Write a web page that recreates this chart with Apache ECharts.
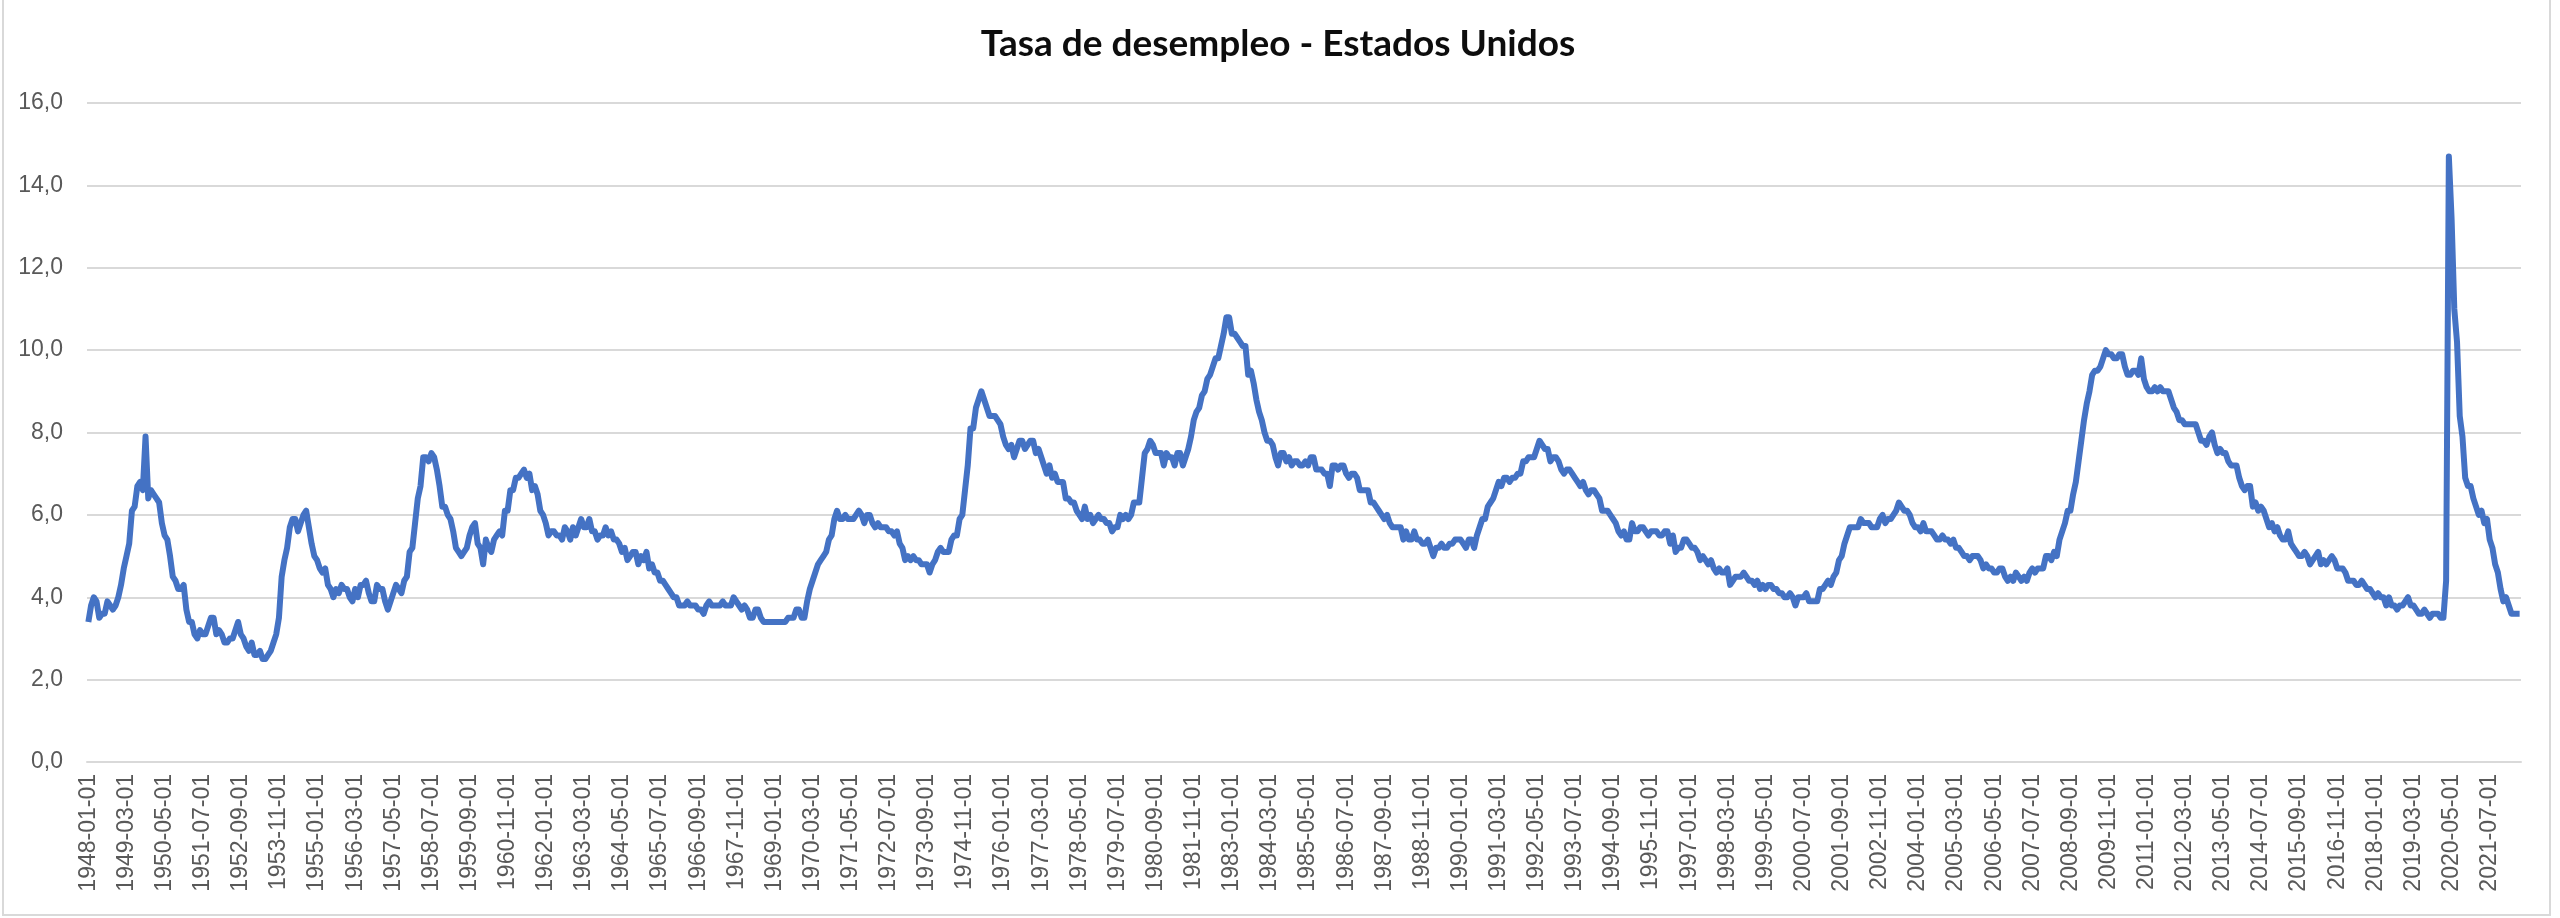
<!DOCTYPE html>
<html>
<head>
<meta charset="utf-8">
<script src="https://cdn.jsdelivr.net/npm/echarts@6/dist/echarts.min.js"></script>
<style>
html,body{margin:0;padding:0;background:#fff;}
#chart{width:2560px;height:918px;}
</style>
</head>
<body>
<div id="chart"></div>
<script>
// Monthly US unemployment rate (%), starting 1948-01
const startYear = 1948;
const startMonth = 1;
const rate1940s = [
  3.4,3.8,4.0,3.9,3.5,3.6,3.6,3.9,3.8,3.7,3.8,4.0,
  4.3,4.7,5.0,5.3,6.1,6.2,6.7,6.8,6.6,7.9,6.4,6.6
];
const rate1950s = [
  6.5,6.4,6.3,5.8,5.5,5.4,5.0,4.5,4.4,4.2,4.2,4.3,
  3.7,3.4,3.4,3.1,3.0,3.2,3.1,3.1,3.3,3.5,3.5,3.1,
  3.2,3.1,2.9,2.9,3.0,3.0,3.2,3.4,3.1,3.0,2.8,2.7,
  2.9,2.6,2.6,2.7,2.5,2.5,2.6,2.7,2.9,3.1,3.5,4.5,
  4.9,5.2,5.7,5.9,5.9,5.6,5.8,6.0,6.1,5.7,5.3,5.0,
  4.9,4.7,4.6,4.7,4.3,4.2,4.0,4.2,4.1,4.3,4.2,4.2,
  4.0,3.9,4.2,4.0,4.3,4.3,4.4,4.1,3.9,3.9,4.3,4.2,
  4.2,3.9,3.7,3.9,4.1,4.3,4.2,4.1,4.4,4.5,5.1,5.2,
  5.8,6.4,6.7,7.4,7.4,7.3,7.5,7.4,7.1,6.7,6.2,6.2,
  6.0,5.9,5.6,5.2,5.1,5.0,5.1,5.2,5.5,5.7,5.8,5.3
];
const rate1960s = [
  5.2,4.8,5.4,5.2,5.1,5.4,5.5,5.6,5.5,6.1,6.1,6.6,
  6.6,6.9,6.9,7.0,7.1,6.9,7.0,6.6,6.7,6.5,6.1,6.0,
  5.8,5.5,5.6,5.6,5.5,5.5,5.4,5.7,5.6,5.4,5.7,5.5,
  5.7,5.9,5.7,5.7,5.9,5.6,5.6,5.4,5.5,5.5,5.7,5.5,
  5.6,5.4,5.4,5.3,5.1,5.2,4.9,5.0,5.1,5.1,4.8,5.0,
  4.9,5.1,4.7,4.8,4.6,4.6,4.4,4.4,4.3,4.2,4.1,4.0,
  4.0,3.8,3.8,3.8,3.9,3.8,3.8,3.8,3.7,3.7,3.6,3.8,
  3.9,3.8,3.8,3.8,3.8,3.9,3.8,3.8,3.8,4.0,3.9,3.8,
  3.7,3.8,3.7,3.5,3.5,3.7,3.7,3.5,3.4,3.4,3.4,3.4,
  3.4,3.4,3.4,3.4,3.4,3.5,3.5,3.5,3.7,3.7,3.5,3.5
];
const rate1970s = [
  3.9,4.2,4.4,4.6,4.8,4.9,5.0,5.1,5.4,5.5,5.9,6.1,
  5.9,5.9,6.0,5.9,5.9,5.9,6.0,6.1,6.0,5.8,6.0,6.0,
  5.8,5.7,5.8,5.7,5.7,5.7,5.6,5.6,5.5,5.6,5.3,5.2,
  4.9,5.0,4.9,5.0,4.9,4.9,4.8,4.8,4.8,4.6,4.8,4.9,
  5.1,5.2,5.1,5.1,5.1,5.4,5.5,5.5,5.9,6.0,6.6,7.2,
  8.1,8.1,8.6,8.8,9.0,8.8,8.6,8.4,8.4,8.4,8.3,8.2,
  7.9,7.7,7.6,7.7,7.4,7.6,7.8,7.8,7.6,7.7,7.8,7.8,
  7.5,7.6,7.4,7.2,7.0,7.2,6.9,7.0,6.8,6.8,6.8,6.4,
  6.4,6.3,6.3,6.1,6.0,5.9,6.2,5.9,6.0,5.8,5.9,6.0,
  5.9,5.9,5.8,5.8,5.6,5.7,5.7,6.0,5.9,6.0,5.9,6.0
];
const rate1980s = [
  6.3,6.3,6.3,6.9,7.5,7.6,7.8,7.7,7.5,7.5,7.5,7.2,
  7.5,7.4,7.4,7.2,7.5,7.5,7.2,7.4,7.6,7.9,8.3,8.5,
  8.6,8.9,9.0,9.3,9.4,9.6,9.8,9.8,10.1,10.4,10.8,10.8,
  10.4,10.4,10.3,10.2,10.1,10.1,9.4,9.5,9.2,8.8,8.5,8.3,
  8.0,7.8,7.8,7.7,7.4,7.2,7.5,7.5,7.3,7.4,7.2,7.3,
  7.3,7.2,7.2,7.3,7.2,7.4,7.4,7.1,7.1,7.1,7.0,7.0,
  6.7,7.2,7.2,7.1,7.2,7.2,7.0,6.9,7.0,7.0,6.9,6.6,
  6.6,6.6,6.6,6.3,6.3,6.2,6.1,6.0,5.9,6.0,5.8,5.7,
  5.7,5.7,5.7,5.4,5.6,5.4,5.4,5.6,5.4,5.4,5.3,5.3,
  5.4,5.2,5.0,5.2,5.2,5.3,5.2,5.2,5.3,5.3,5.4,5.4
];
const rate1990s = [
  5.4,5.3,5.2,5.4,5.4,5.2,5.5,5.7,5.9,5.9,6.2,6.3,
  6.4,6.6,6.8,6.7,6.9,6.9,6.8,6.9,6.9,7.0,7.0,7.3,
  7.3,7.4,7.4,7.4,7.6,7.8,7.7,7.6,7.6,7.3,7.4,7.4,
  7.3,7.1,7.0,7.1,7.1,7.0,6.9,6.8,6.7,6.8,6.6,6.5,
  6.6,6.6,6.5,6.4,6.1,6.1,6.1,6.0,5.9,5.8,5.6,5.5,
  5.6,5.4,5.4,5.8,5.6,5.6,5.7,5.7,5.6,5.5,5.6,5.6,
  5.6,5.5,5.5,5.6,5.6,5.3,5.5,5.1,5.2,5.2,5.4,5.4,
  5.3,5.2,5.2,5.1,4.9,5.0,4.9,4.8,4.9,4.7,4.6,4.7,
  4.6,4.6,4.7,4.3,4.4,4.5,4.5,4.5,4.6,4.5,4.4,4.4,
  4.3,4.4,4.2,4.3,4.2,4.3,4.3,4.2,4.2,4.1,4.1,4.0
];
const rate2000s = [
  4.0,4.1,4.0,3.8,4.0,4.0,4.0,4.1,3.9,3.9,3.9,3.9,
  4.2,4.2,4.3,4.4,4.3,4.5,4.6,4.9,5.0,5.3,5.5,5.7,
  5.7,5.7,5.7,5.9,5.8,5.8,5.8,5.7,5.7,5.7,5.9,6.0,
  5.8,5.9,5.9,6.0,6.1,6.3,6.2,6.1,6.1,6.0,5.8,5.7,
  5.7,5.6,5.8,5.6,5.6,5.6,5.5,5.4,5.4,5.5,5.4,5.4,
  5.3,5.4,5.2,5.2,5.1,5.0,5.0,4.9,5.0,5.0,5.0,4.9,
  4.7,4.8,4.7,4.7,4.6,4.6,4.7,4.7,4.5,4.4,4.5,4.4,
  4.6,4.5,4.4,4.5,4.4,4.6,4.7,4.6,4.7,4.7,4.7,5.0,
  5.0,4.9,5.1,5.0,5.4,5.6,5.8,6.1,6.1,6.5,6.8,7.3,
  7.8,8.3,8.7,9.0,9.4,9.5,9.5,9.6,9.8,10.0,9.9,9.9
];
const rate2010s = [
  9.8,9.8,9.9,9.9,9.6,9.4,9.4,9.5,9.5,9.4,9.8,9.3,
  9.1,9.0,9.0,9.1,9.0,9.1,9.0,9.0,9.0,8.8,8.6,8.5,
  8.3,8.3,8.2,8.2,8.2,8.2,8.2,8.0,7.8,7.8,7.7,7.9,
  8.0,7.7,7.5,7.6,7.5,7.5,7.3,7.2,7.2,7.2,6.9,6.7,
  6.6,6.7,6.7,6.2,6.3,6.1,6.2,6.1,5.9,5.7,5.8,5.6,
  5.7,5.5,5.4,5.4,5.6,5.3,5.2,5.1,5.0,5.0,5.1,5.0,
  4.8,4.9,5.0,5.1,4.8,4.9,4.8,4.9,5.0,4.9,4.7,4.7,
  4.7,4.6,4.4,4.4,4.4,4.3,4.3,4.4,4.3,4.2,4.2,4.1,
  4.0,4.1,4.0,4.0,3.8,4.0,3.8,3.8,3.7,3.8,3.8,3.9,
  4.0,3.8,3.8,3.7,3.6,3.6,3.7,3.6,3.5,3.6,3.6,3.6
];
const rate2020s = [
  3.5,3.5,4.4,14.7,13.2,11.0,10.2,8.4,7.9,6.9,6.7,6.7,
  6.4,6.2,6.0,6.1,5.8,5.9,5.4,5.2,4.8,4.6,4.2,3.9,
  4.0,3.8,3.6,3.6,3.6,3.6
];
const yTicks = [0, 2, 4, 6, 8, 10, 12, 14, 16];
const titleText = 'Tasa de desempleo - Estados Unidos';

const rates = [].concat(rate1940s, rate1950s, rate1960s, rate1970s, rate1980s,
                        rate1990s, rate2000s, rate2010s, rate2020s);
const categories = rates.map(function (_, i) {
  const m0 = (startMonth - 1) + i;
  const y = startYear + Math.floor(m0 / 12);
  const m = (m0 % 12) + 1;
  return y + '-' + (m < 10 ? '0' + m : m) + '-01';
});

const chart = echarts.init(document.getElementById('chart'), null, {renderer: 'canvas'});
chart.setOption({
  backgroundColor: '#ffffff',
  animation: false,
  title: {
    text: titleText,
    left: 1273,
    textAlign: 'center',
    top: 21,
    textStyle: {fontFamily: 'Lato', fontWeight: 'bold', fontSize: 37, color: '#0d0d0d'}
  },
  graphic: [{
    type: 'rect',
    shape: {x: 3, y: -5, width: 2547, height: 920},
    style: {fill: 'none', stroke: '#d9d9d9', lineWidth: 2},
    silent: true
  }],
  grid: {left: 87, right: 39, top: 103, bottom: 156, containLabel: false},
  xAxis: {
    type: 'category',
    data: categories,
    boundaryGap: true,
    axisLine: {lineStyle: {color: '#d9d9d9', width: 2}},
    axisTick: {interval: 13, length: 7, lineStyle: {color: '#d9d9d9', width: 2}},
    axisLabel: {
      interval: 13, rotate: 90, margin: 12,
      fontFamily: 'Liberation Sans', fontSize: 23, color: '#595959'
    },
    splitLine: {show: false}
  },
  yAxis: {
    type: 'value',
    min: yTicks[0], max: yTicks[yTicks.length - 1], interval: 2,
    axisLine: {show: false},
    axisTick: {show: false},
    axisLabel: {
      margin: 24, fontFamily: 'Liberation Sans', fontSize: 23, color: '#595959',
      formatter: function (v) { return v.toFixed(1).replace('.', ','); }
    },
    splitLine: {lineStyle: {color: '#d9d9d9', width: 2}}
  },
  series: [{
    type: 'line',
    data: rates,
    symbol: 'none',
    smooth: false,
    lineStyle: {color: '#4472C4', width: 6, join: 'round'},
    itemStyle: {color: '#4472C4'}
  }]
});
</script>
</body>
</html>
